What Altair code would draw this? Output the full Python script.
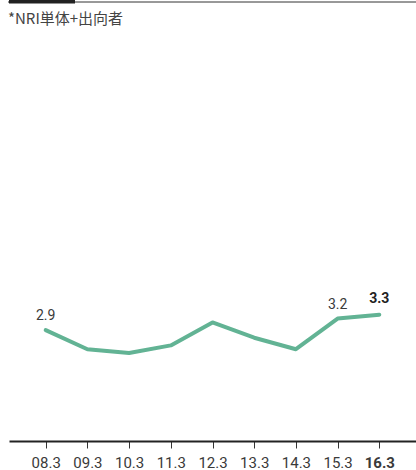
import altair as alt
import pandas as pd

years = ["08.3", "09.3", "10.3", "11.3", "12.3", "13.3", "14.3", "15.3", "16.3"]
values = [2.9, 2.4, 2.3, 2.5, 3.1, 2.7, 2.4, 3.2, 3.3]
labels = ["2.9", "", "", "", "", "", "", "3.2", "3.3"]
weights = ["normal", "normal", "normal", "normal", "normal", "normal", "normal", "normal", "bold"]

df = pd.DataFrame({"year": years, "value": values, "label": labels, "weight": weights})

W, H = 407, 441
FONT = "Roboto"

x_enc = alt.X(
    "year:O",
    sort=years,
    scale=alt.Scale(type="point", padding=0.88),
    axis=alt.Axis(
        title=None,
        labelAngle=0,
        labelFont=FONT,
        labelFontSize=15,
        labelColor="#3a3a3a",
        labelPadding=7,
        labelFontWeight=alt.ExprRef(expr="datum.value == '16.3' ? 'bold' : 'normal'"),
        domainColor="#222222",
        domainWidth=2,
        tickColor="#333333",
        tickSize=7,
        tickWidth=1,
        grid=False,
    ),
)
y_enc = alt.Y("value:Q", scale=alt.Scale(domain=[0, 11.53], nice=False, zero=True), axis=None)

base = alt.Chart(df)

line = base.mark_line(color="#62b394", strokeWidth=4, strokeCap="round", strokeJoin="round").encode(
    x=x_enc, y=y_enc
)

text_normal = base.transform_filter("datum.label != '' && datum.weight == 'normal'").mark_text(
    font=FONT, fontSize=14, color="#3a3a3a", dy=-14
).encode(x=alt.X("year:O", sort=years), y="value:Q", text="label:N")

text_bold = base.transform_filter("datum.weight == 'bold'").mark_text(
    font=FONT, fontSize=14, color="#222222", fontWeight="bold", dy=-16
).encode(x=alt.X("year:O", sort=years), y="value:Q", text="label:N")

top_line = alt.Chart(pd.DataFrame({"a": [0]})).mark_rule(color="#333333", strokeWidth=1).encode(
    x=alt.value(-1), x2=alt.value(W), y=alt.value(2)
)
top_bar = alt.Chart(pd.DataFrame({"a": [0]})).mark_rule(color="#222222", strokeWidth=4).encode(
    x=alt.value(0), x2=alt.value(66), y=alt.value(1.5)
)
note = alt.Chart(pd.DataFrame({"t": ["*NRI単体+出向者"]})).mark_text(
    font="Noto Sans CJK JP", fontSize=15, color="#444444", align="left", baseline="middle"
).encode(x=alt.value(-1), y=alt.value(19), text="t:N")

chart = alt.layer(line, text_normal, text_bold, top_line, top_bar, note).properties(
    width=W,
    height=H,
    padding={"left": 9, "top": 0, "right": 0, "bottom": 29},
    autosize=alt.AutoSizeParams(type="none"),
    background="white",
).configure_view(stroke=None)

chart.save("out.html", embed_options={"renderer": "svg", "actions": False})
